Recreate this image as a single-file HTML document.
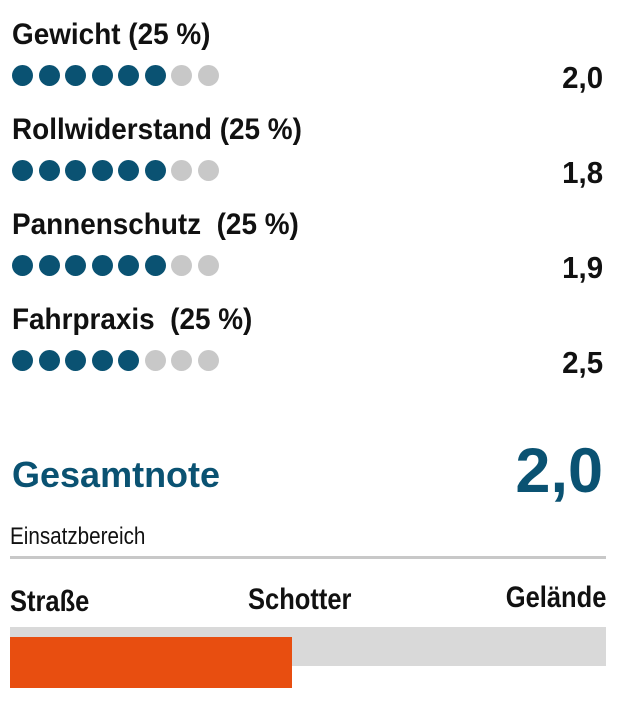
<!DOCTYPE html>
<html><head><meta charset="utf-8"><style>
body{margin:0;width:632px;height:720px;background:#fff;position:relative;overflow:hidden;font-family:"Liberation Sans",sans-serif;color:#111}
.t{position:absolute;left:12px;font-weight:bold;font-size:30px;line-height:1;white-space:nowrap;transform:scaleX(0.93);transform-origin:0 0}
.v{position:absolute;right:29px;font-weight:bold;font-size:31px;line-height:1;transform:scaleX(0.95);transform-origin:100% 0}
.dots{position:absolute;left:12px;height:21px}
.d{position:absolute;top:0;width:21px;height:21px;border-radius:50%;background:#0a5272}
.g{background:#c8c8c8}
.b{position:absolute;font-size:30px;font-weight:bold;line-height:1;white-space:nowrap;transform:scaleX(0.85)}
</style></head><body>
<div class="t" style="top:20px">Gewicht (25 %)</div>
<div class="t" style="top:115px">Rollwiderstand (25 %)</div>
<div class="t" style="top:210px">Pannenschutz&nbsp; (25 %)</div>
<div class="t" style="top:305px">Fahrpraxis&nbsp; (25 %)</div>

<div class="dots" style="top:65px"><div class="d" style="left:0"></div><div class="d" style="left:26.5px"></div><div class="d" style="left:53px"></div><div class="d" style="left:79.5px"></div><div class="d" style="left:106px"></div><div class="d" style="left:132.5px"></div><div class="d g" style="left:159px"></div><div class="d g" style="left:185.5px"></div></div>
<div class="dots" style="top:160px"><div class="d" style="left:0"></div><div class="d" style="left:26.5px"></div><div class="d" style="left:53px"></div><div class="d" style="left:79.5px"></div><div class="d" style="left:106px"></div><div class="d" style="left:132.5px"></div><div class="d g" style="left:159px"></div><div class="d g" style="left:185.5px"></div></div>
<div class="dots" style="top:255px"><div class="d" style="left:0"></div><div class="d" style="left:26.5px"></div><div class="d" style="left:53px"></div><div class="d" style="left:79.5px"></div><div class="d" style="left:106px"></div><div class="d" style="left:132.5px"></div><div class="d g" style="left:159px"></div><div class="d g" style="left:185.5px"></div></div>
<div class="dots" style="top:350px"><div class="d" style="left:0"></div><div class="d" style="left:26.5px"></div><div class="d" style="left:53px"></div><div class="d" style="left:79.5px"></div><div class="d" style="left:106px"></div><div class="d g" style="left:132.5px"></div><div class="d g" style="left:159px"></div><div class="d g" style="left:185.5px"></div></div>

<div class="v" style="top:62px">2,0</div>
<div class="v" style="top:157px">1,8</div>
<div class="v" style="top:252px">1,9</div>
<div class="v" style="top:347px">2,5</div>

<div style="position:absolute;left:12px;top:457px;font-weight:bold;font-size:36px;color:#0a5272;line-height:1">Gesamtnote</div>
<div style="position:absolute;right:29px;top:440px;font-weight:bold;font-size:63px;color:#0a5272;line-height:1">2,0</div>

<div style="position:absolute;left:10px;top:525px;font-size:24px;line-height:1;transform:scaleX(0.86);transform-origin:0 0">Einsatzbereich</div>
<div style="position:absolute;left:10px;top:556px;width:596px;height:3px;background:#c8c8c8"></div>

<div class="b" style="left:10px;top:587px;transform-origin:0 0">Straße</div>
<div class="b" style="left:248px;top:585px;transform-origin:0 0">Schotter</div>
<div class="b" style="right:26px;top:583px;transform-origin:100% 0">Gelände</div>

<div style="position:absolute;left:10px;top:627px;width:596px;height:39px;background:#d9d9d9"></div>
<div style="position:absolute;left:10px;top:637px;width:282px;height:51px;background:#e84e10"></div>
</body></html>
